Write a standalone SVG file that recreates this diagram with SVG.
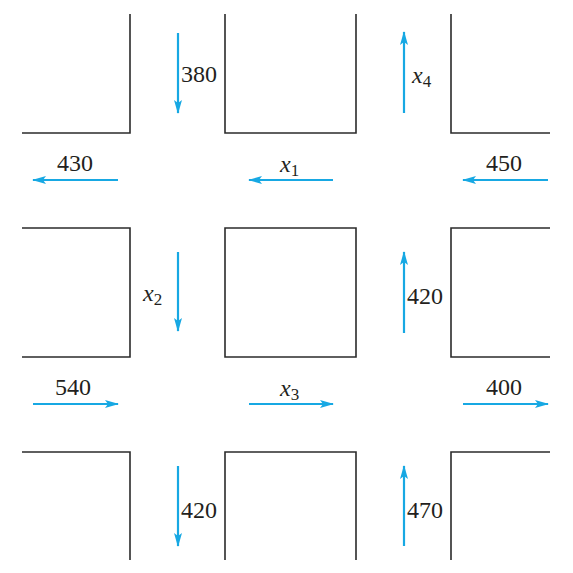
<svg xmlns="http://www.w3.org/2000/svg" width="573" height="573" viewBox="0 0 573 573">
<style>
.blk{fill:none;stroke:#2b2b2b;stroke-width:1.6}
.arr{fill:none;stroke:#17a8e3;stroke-width:2.2;marker-end:url(#ah)}
.lb{font-family:"Times New Roman","Liberation Serif","DejaVu Serif",serif;font-size:24px;fill:#231f20}
.vx{font-style:italic}
.sb{font-size:17px;font-style:normal}
</style>
<defs>
<marker id="ah" markerWidth="14" markerHeight="8" refX="13" refY="4" orient="auto" markerUnits="userSpaceOnUse">
<path d="M0,0 L14,4 L0,8 L3,4 Z" fill="#17a8e3"/>
</marker>
</defs>
<rect width="573" height="573" fill="#fff"/>
<g id="blocks">
<path id="b1" class="blk" d="M22,133 H130 V14"/>
<path id="b2" class="blk" d="M225,14 V133 H356 V14"/>
<path id="b3" class="blk" d="M451,14 V133 H550"/>
<path id="b4" class="blk" d="M22,228 H130 V357 H22"/>
<path id="b5" class="blk" d="M225,228 H356 V357 H225 Z"/>
<path id="b6" class="blk" d="M550,228 H451 V357 H550"/>
<path id="b7" class="blk" d="M22,452 H130 V560"/>
<path id="b8" class="blk" d="M225,560 V452 H356 V560"/>
<path id="b9" class="blk" d="M451,560 V452 H550"/>
</g>
<g id="connectors">
<line class="arr" x1="178" y1="33" x2="178" y2="113"/>
<line class="arr" x1="404" y1="113" x2="404" y2="32"/>
<line class="arr" x1="118" y1="180" x2="33" y2="180"/>
<line class="arr" x1="333" y1="180" x2="249" y2="180"/>
<line class="arr" x1="548" y1="180" x2="463" y2="180"/>
<line class="arr" x1="178" y1="252" x2="178" y2="331"/>
<line class="arr" x1="404" y1="333" x2="404" y2="252"/>
<line class="arr" x1="33" y1="404" x2="118" y2="404"/>
<line class="arr" x1="249" y1="404" x2="333" y2="404"/>
<line class="arr" x1="463" y1="404" x2="548" y2="404"/>
<line class="arr" x1="178" y1="466" x2="178" y2="546"/>
<line class="arr" x1="404" y1="546" x2="404" y2="466"/>
</g>
<g id="labels">
<text class="lb" x="181" y="82">380</text>
<text class="lb vx" x="412" y="83">x<tspan class="sb" dy="4">4</tspan></text>
<text class="lb" x="57" y="171">430</text>
<text class="lb vx" x="280" y="172">x<tspan class="sb" dy="4">1</tspan></text>
<text class="lb" x="486" y="171">450</text>
<text class="lb vx" x="143" y="301">x<tspan class="sb" dy="4">2</tspan></text>
<text class="lb" x="407" y="304">420</text>
<text class="lb" x="55" y="395">540</text>
<text class="lb vx" x="280" y="396">x<tspan class="sb" dy="4">3</tspan></text>
<text class="lb" x="486" y="395">400</text>
<text class="lb" x="181" y="518">420</text>
<text class="lb" x="407" y="518">470</text>
</g>
</svg>
